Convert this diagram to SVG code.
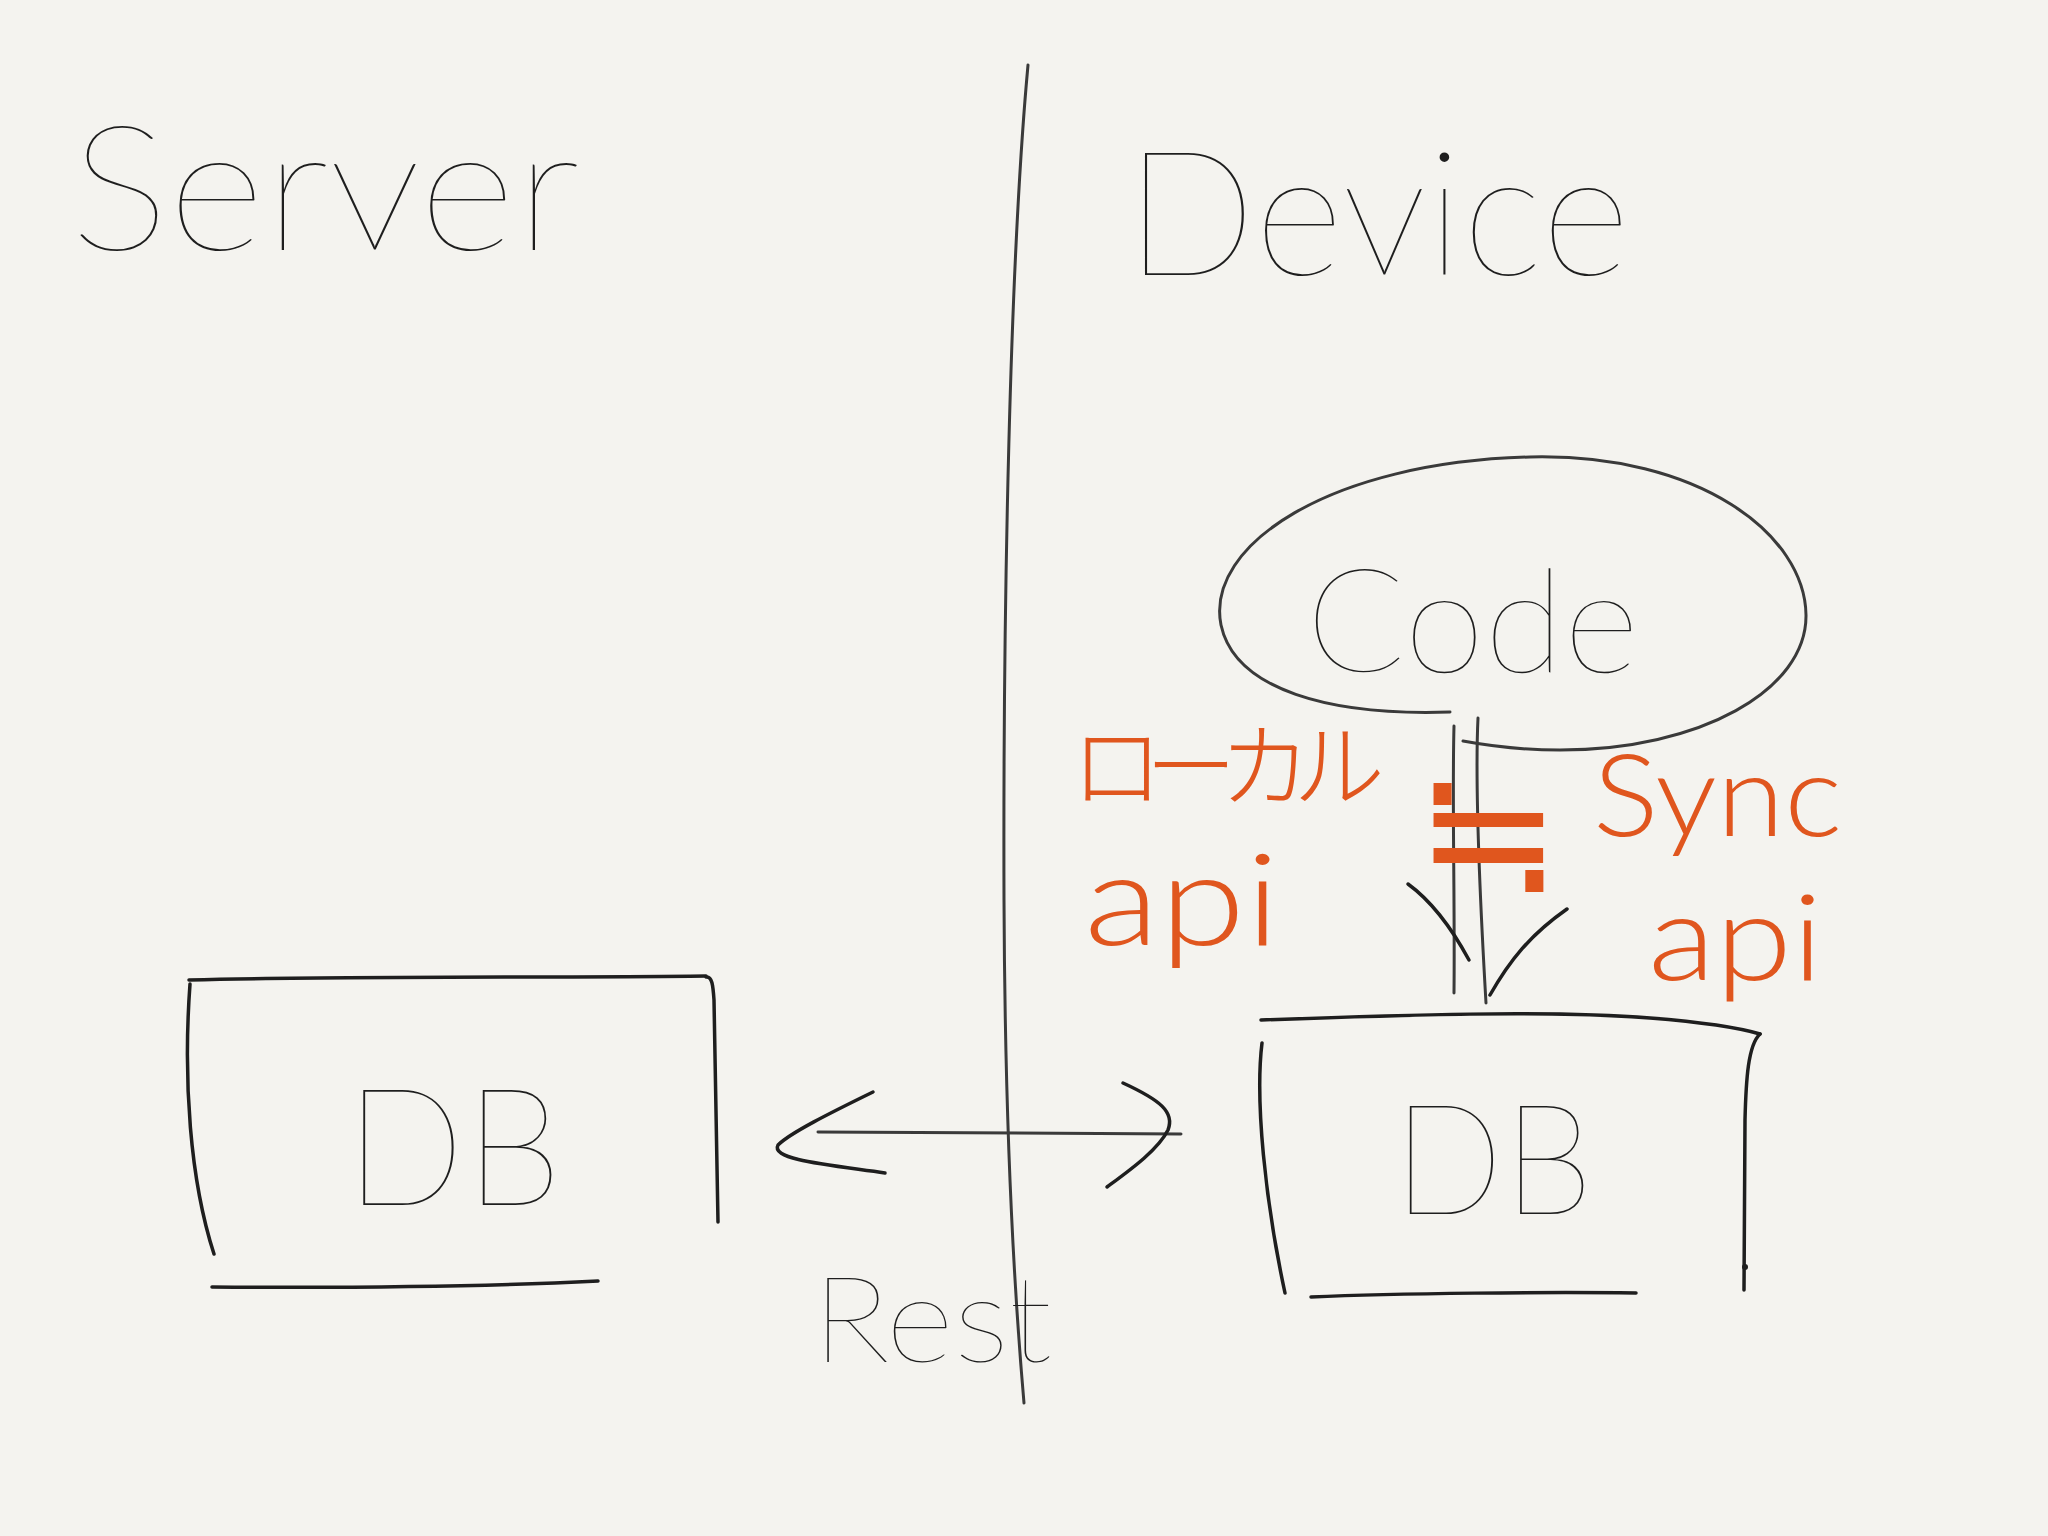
<svg xmlns="http://www.w3.org/2000/svg" width="2048" height="1536" viewBox="0 0 2048 1536">
<style>
.ink{fill:none;stroke:#1e1e1e;stroke-width:3.5;stroke-linecap:round;stroke-linejoin:round}
.thin{fill:none;stroke:#3a3a3a;stroke-width:3;stroke-linecap:round;stroke-linejoin:round}
.hand{font-family:Lato,"Noto Sans","Liberation Sans",sans-serif;font-weight:200;fill:#1e1e1e}
.orange{fill:#e0561e;font-weight:300}
.jp{font-family:"Noto Sans CJK JP","Noto Sans",sans-serif;font-weight:300}
.sym{font-family:"DejaVu Sans",sans-serif;font-weight:200}
</style>
<rect width="2048" height="1536" fill="#f4f3ef"/>

<g id="server-label">
<text class="hand" x="70" y="250" font-size="175" textLength="510" lengthAdjust="spacingAndGlyphs">Server</text>
</g>
<g id="device-label">
<text class="hand" x="1125" y="275" font-size="175" textLength="505" lengthAdjust="spacingAndGlyphs">Device</text>
</g>

<g id="divider">
<path class="thin" d="M1028,65 C1010,260 1003,600 1004,900 C1005,1150 1015,1300 1024,1403"/>
</g>

<g id="code">
<path class="thin" d="M1450,712 C1330,716 1235,690 1221,625 C1205,545 1330,462 1530,457 C1700,453 1805,535 1806,615 C1807,690 1700,750 1560,750 C1520,750 1490,746 1463,741"/>
<text class="hand" x="1306" y="672" font-size="145" textLength="333" lengthAdjust="spacingAndGlyphs">Code</text>
</g>

<g id="db-server">
<path class="ink" d="M189,980 C350,976 560,978 706,976"/>
<path class="ink" d="M706,977 C712,976 713,985 714,1000 C716,1100 717,1180 718,1222"/>
<path class="ink" d="M190,984 C183,1080 190,1180 214,1254"/>
<path class="ink" d="M212,1287 C350,1288 500,1286 598,1281"/>
<text class="hand" x="345" y="1205" font-size="165" textLength="217" lengthAdjust="spacingAndGlyphs">DB</text>
</g>

<g id="db-device">
<path class="ink" d="M1261,1020 C1400,1015 1550,1010 1650,1018 C1700,1022 1740,1028 1760,1034"/>
<path class="ink" d="M1760,1034 C1748,1045 1746,1080 1745,1120 L1744,1290"/>
<circle cx="1745" cy="1267" r="3" fill="#1e1e1e"/>
<path class="ink" d="M1262,1043 C1255,1100 1265,1200 1285,1293"/>
<path class="ink" d="M1311,1297 C1400,1293 1550,1292 1636,1293"/>
<text class="hand" x="1393" y="1214" font-size="155" textLength="200" lengthAdjust="spacingAndGlyphs">DB</text>
</g>

<g id="connectors">
<g id="rest-arrow">
<path class="thin" d="M818,1132 L1181,1134"/>
<path class="ink" d="M873,1092 C830,1113 790,1133 778,1145 C770,1160 830,1165 885,1173"/>
<path class="ink" d="M1123,1083 C1160,1100 1175,1112 1168,1130 C1158,1150 1130,1170 1107,1187"/>
</g>
<g id="code-to-db-arrow">
<path class="thin" d="M1454,726 C1452,800 1455,900 1454,993"/>
<path class="thin" d="M1478,718 C1475,780 1480,900 1486,1003"/>
<path class="ink" d="M1408,884 C1430,900 1450,925 1469,960"/>
<path class="ink" d="M1567,909 C1530,935 1510,960 1490,995"/>
</g>
</g>

<g id="rest-label">
<text class="hand" x="812" y="1362" font-size="120" textLength="240" lengthAdjust="spacingAndGlyphs">Rest</text>
</g>

<g id="local-api-label">
<text class="jp orange" x="1071" y="800" font-size="92" letter-spacing="-18">ローカル</text>
<text class="hand orange" x="1084" y="945" font-size="128" textLength="196" lengthAdjust="spacingAndGlyphs">api</text>
</g>

<g id="approx-sign">
<text class="sym orange" x="1488" y="893" font-size="175" text-anchor="middle">≒</text>
</g>

<g id="sync-api-label">
<text class="hand orange" x="1593" y="836" font-size="115" textLength="249" lengthAdjust="spacingAndGlyphs">Sync</text>
<text class="hand orange" x="1648" y="980" font-size="120" textLength="175" lengthAdjust="spacingAndGlyphs">api</text>
</g>
</svg>
